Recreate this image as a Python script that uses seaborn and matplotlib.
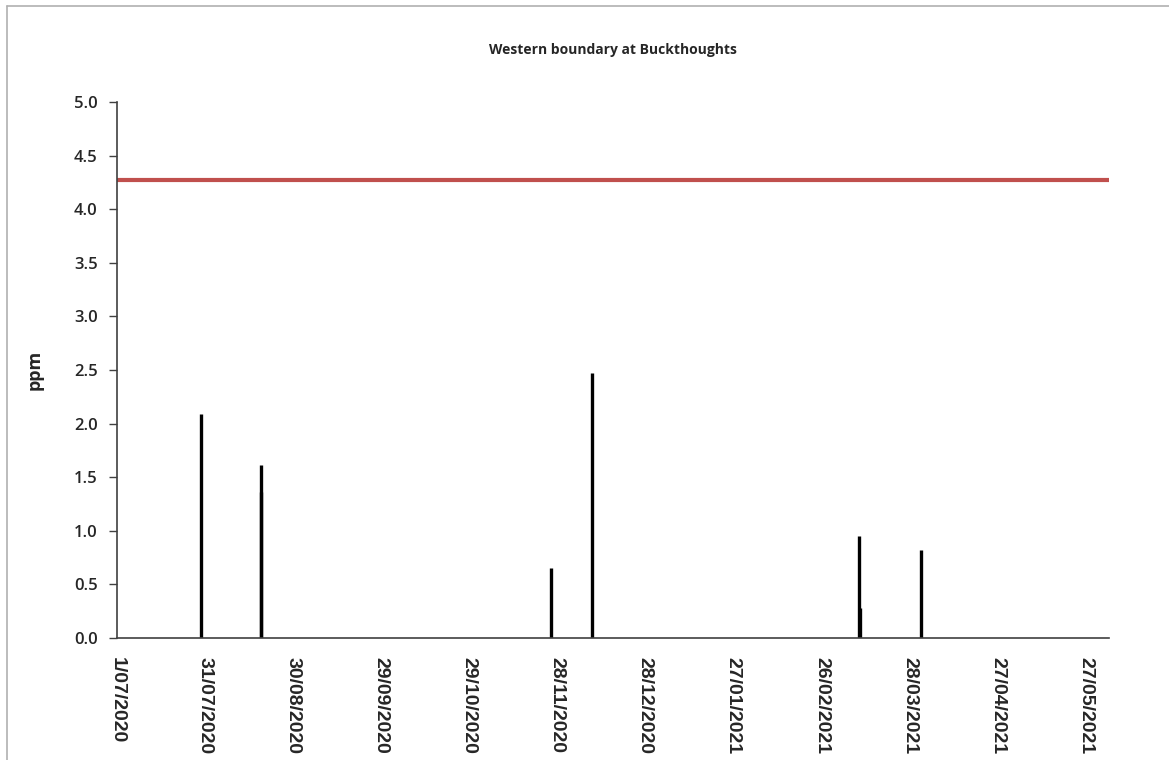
import matplotlib
matplotlib.use("Agg")
import matplotlib.pyplot as plt
from matplotlib.lines import Line2D
import numpy as np
import pandas as pd
import seaborn as sns

# readings (ppm) - mostly zero, only the non-zero days listed
sample_dates = ["2020-07-29 18:00", "2020-08-19 00:00", "2020-08-19 04:00",
                "2020-11-25 18:00", "2020-12-09 18:00",
                "2021-03-10 20:00", "2021-03-11 00:00", "2021-03-31 20:00"]
ppm_values = [2.09, 1.61, 1.365, 0.65, 2.475, 0.955, 0.28, 0.82]

limit_value = 4.27
x_start = "2020-07-01"
x_end = "2021-06-04"
tick_dates = pd.date_range("2020-07-01", periods=12, freq="30D")
y_ticks = np.arange(0, 5.01, 0.5)

df = pd.DataFrame({"date": pd.to_datetime(sample_dates), "ppm": ppm_values})
limit_df = pd.DataFrame({"date": pd.to_datetime([x_start, x_end]),
                         "ppm": [limit_value, limit_value]})

sns.set_theme(style="white")
plt.rcParams["font.family"] = ["Open Sans", "DejaVu Sans"]

fig = plt.figure(figsize=(11.69, 7.6), dpi=100)
ax = fig.add_axes([117 / 1169, 1 - 638 / 760, (1109 - 117) / 1169, (638 - 102) / 760])

ax.vlines(df["date"], 0, df["ppm"], color="black", linewidth=2.4)
sns.lineplot(data=limit_df, x="date", y="ppm", ax=ax, color="#c0504d", linewidth=3)

ax.set_xlim(pd.Timestamp(x_start), pd.Timestamp(x_end))
ax.set_ylim(0, 5.0)
ax.set_yticks(y_ticks)
ax.set_yticklabels([f"{v:.1f}" for v in y_ticks], fontsize=12, fontweight="semibold")
ax.set_xticks(tick_dates)
ax.set_xticklabels([f"{d.day}/{d.month:02d}/{d.year}" for d in tick_dates],
                   rotation=270, fontsize=14, fontweight="bold", family=["Liberation Sans"])

ax.tick_params(axis="y", which="both", left=True, length=6, width=1, color="#404040", pad=8)
ax.tick_params(axis="x", length=0, pad=14)

for s in ["top", "right"]:
    ax.spines[s].set_visible(False)
for s in ["left", "bottom"]:
    ax.spines[s].set_color("#404040")
    ax.spines[s].set_linewidth(1.2)

ax.set_xlabel("")
ax.set_ylabel("ppm", fontsize=13, fontweight="bold", labelpad=22)
fig.text(613 / 1169, 1 - 50 / 760, "Western boundary at Buckthoughts",
         ha="center", va="center", fontsize=10, fontweight="bold")

# outer chart frame (top and left visible)
fig.add_artist(Line2D([7 / 1169, 1], [1 - 6 / 760, 1 - 6 / 760], color="#b0b0b0", linewidth=1.2))
fig.add_artist(Line2D([7 / 1169, 7 / 1169], [0, 1 - 6 / 760], color="#b0b0b0", linewidth=1.2))

fig.savefig("out.png", dpi=100)
